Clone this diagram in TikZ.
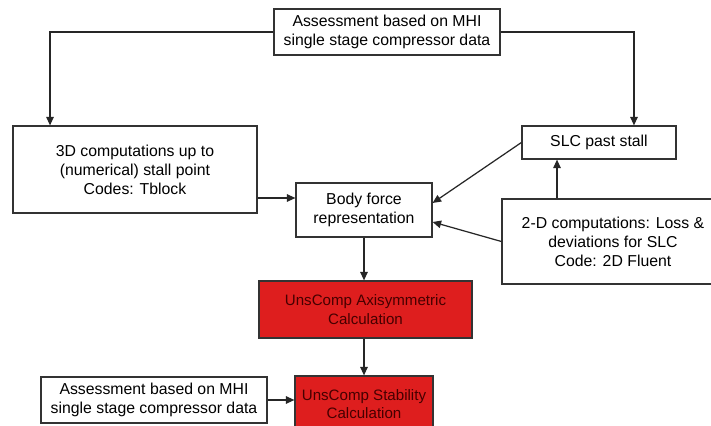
\documentclass[tikz,border=0pt]{standalone}
\usepackage{fontspec}
\setmainfont{Liberation Sans}
\usetikzlibrary{arrows.meta}
\definecolor{calcred}{RGB}{222,30,30}
\definecolor{calctext}{RGB}{70,0,0}
\tikzset{
  box/.style={draw=black!80, line width=0.7pt, fill=white, align=center, inner sep=0pt,
    font=\fontsize{9}{10.8}\selectfont},
  redbox/.style={box, fill=calcred, text=calctext, font=\fontsize{8.6}{10.6}\selectfont},
  arr/.style={-{Triangle[length=1.7mm,width=1.5mm]}, line width=0.7pt, draw=black!85}
}
\begin{document}
\begin{tikzpicture}[x=0.02cm, y=-0.02cm]
  \clip (0,0) rectangle (711,426);
  \fill[white] (0,0) rectangle (711,426);
  % the boxes
  \node[box, minimum width=4.52cm, minimum height=0.92cm] (mhitop) at (387,32)
    {Assessment based on MHI\\single stage compressor data};
  \node[box, minimum width=4.88cm, minimum height=1.74cm] (comp3d) at (135,169.5)
    {3D computations up to\\(numerical) stall point\\Codes: Tblock};
  \node[box, minimum width=2.72cm, minimum height=1.08cm] (bodyforce) at (364,210)
    {Body force\\representation};
  \node[box, minimum width=3.08cm, minimum height=0.66cm] (slc) at (599,142.5)
    {SLC past stall};
  \node[box, minimum width=4.44cm, minimum height=1.70cm] (comp2d) at (613,241.5)
    {2-D computations: Loss \&\\deviations for SLC\\Code: 2D Fluent};
  \node[redbox, minimum width=4.26cm, minimum height=1.14cm] (axisym) at (365.5,309.5)
    {UnsComp Axisymmetric\\Calculation};
  \node[redbox, minimum width=2.76cm, minimum height=1.12cm] (stability) at (364,404)
    {UnsComp Stability\\Calculation};
  \node[box, minimum width=4.52cm, minimum height=0.92cm] (mhibottom) at (154,400)
    {Assessment based on MHI\\single stage compressor data};
  % the connectors
  \coordinate (comp3dtop) at ([xshift=-1.7cm]comp3d.north);
  \coordinate (slctop) at ([xshift=0.7cm]slc.north);
  \coordinate (slcfoot) at ([xshift=-0.84cm]slc.south);
  \coordinate (bodyleft) at ([yshift=0.24cm]bodyforce.west);
  \draw[arr] (mhitop.west) -| (comp3dtop);
  \draw[arr] (mhitop.east) -| (slctop);
  \draw[arr] (bodyleft -| comp3d.east) -- (bodyleft);
  \draw[arr] (slc.west) -- ([yshift=0.14cm]bodyforce.east);
  \draw[arr] (comp2d.west) -- ([yshift=-0.24cm]bodyforce.east);
  \draw[arr] (comp2d.north -| slcfoot) -- (slcfoot);
  \draw[arr] (bodyforce.south) -- (bodyforce.south |- axisym.north);
  \draw[arr] (axisym.south -| stability.north) -- (stability.north);
  \draw[arr] (mhibottom.east) -- (mhibottom.east -| stability.west);
\end{tikzpicture}
\end{document}
